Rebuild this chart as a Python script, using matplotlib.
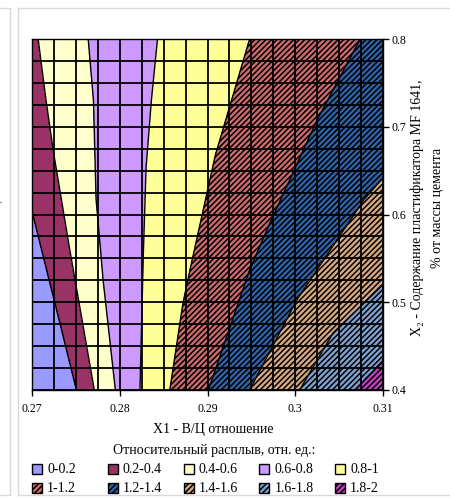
import numpy as np
import matplotlib
matplotlib.use('Agg')
import matplotlib.pyplot as plt
from matplotlib.patches import Rectangle
from matplotlib.ticker import MultipleLocator

plt.rcParams['font.family'] = ['Liberation Serif', 'DejaVu Serif']
plt.rcParams['hatch.color'] = 'black'
plt.rcParams['hatch.linewidth'] = 1.1

# contour levels and legend
levels = [0, 0.2, 0.4, 0.6, 0.8, 1.0, 1.2, 1.4, 1.6, 1.8, 2.0]
labels = ['0-0.2', '0.2-0.4', '0.4-0.6', '0.6-0.8', '0.8-1',
          '1-1.2', '1.2-1.4', '1.4-1.6', '1.6-1.8', '1.8-2']
fills = ['#9999FF', '#993366', '#FFFFCC', '#CC99FF', '#FFFF99',
         '#CC6A6C', '#2F63A8', '#D8A880', '#7FA2D2', '#C040C0']
hatches = ['', '', '', '', '', '//////', '//////', '//////', '//////', '//////']

# where each iso-line crosses: (X2 values, X1 values)
c02 = ([0.4, 0.605, 0.8], [0.2751, 0.2700, 0.2652])
c04 = ([0.4, 0.56, 0.674, 0.73, 0.8], [0.2771, 0.2743, 0.2724, 0.2716, 0.2707])
c06 = ([0.4, 0.525, 0.56, 0.617, 0.73, 0.8], [0.2795, 0.2781, 0.2778, 0.2773, 0.2770, 0.2764])
c08 = ([0.4, 0.56, 0.654, 0.73, 0.8], [0.2823, 0.2827, 0.2830, 0.2836, 0.2843])
c10 = ([0.4, 0.499, 0.537, 0.668, 0.8], [0.2857, 0.2872, 0.2880, 0.2909, 0.2948])
c12 = ([0.4, 0.537, 0.590, 0.708, 0.8], [0.2901, 0.2948, 0.2971, 0.3025, 0.3074])
c14 = ([0.4, 0.503, 0.6165, 0.642, 0.8], [0.2948, 0.3002, 0.3078, 0.3100, 0.3219])
c16 = ([0.4, 0.465, 0.520, 0.8], [0.3005, 0.3043, 0.3100, 0.3325])
c18 = ([0.4, 0.434, 0.8], [0.3068, 0.3100, 0.3448])
isolines = [c02, c04, c06, c08, c10, c12, c14, c16, c18]

xticks = [0.27, 0.28, 0.29, 0.30, 0.31]
xticklabels = ['0.27', '0.28', '0.29', '0.3', '0.31']
yticks = [0.4, 0.5, 0.6, 0.7, 0.8]
yticklabels = ['0.4', '0.5', '0.6', '0.7', '0.8']

# build surface so that the contours pass through the read positions
xg = np.linspace(0.27, 0.31, 600)
yg = np.linspace(0.4, 0.8, 600)
Z = np.zeros((len(yg), len(xg)))
for j, yv in enumerate(yg):
    pos = [np.interp(yv, ys, xs) for ys, xs in isolines]
    Z[j] = np.interp(xg, [0.20] + pos + [0.40], levels)

W, H = 450, 498
fig = plt.figure(figsize=(W / 100, H / 100), dpi=100)
ax = fig.add_axes([32 / W, 1 - 390 / H, 351 / W, 351 / H])

ax.contourf(xg, yg, Z, levels=levels, colors=fills, hatches=hatches)
ax.contour(xg, yg, Z, levels=levels[1:-1], colors='black', linewidths=1.0)

ax.set_xlim(0.27, 0.31)
ax.set_ylim(0.4, 0.8)
ax.set_xticks(xticks)
ax.set_xticklabels(xticklabels)
ax.yaxis.tick_right()
ax.set_yticks(yticks)
ax.set_yticklabels(yticklabels)
ax.xaxis.set_minor_locator(MultipleLocator(0.0025))
ax.yaxis.set_minor_locator(MultipleLocator(0.025))
ax.grid(True, which='both', color='black', linewidth=1.3)
ax.tick_params(which='major', direction='out', length=4, width=1, labelsize=8.5)
ax.tick_params(axis='x', which='major', pad=5)
ax.tick_params(axis='y', which='major', pad=2)
ax.tick_params(which='minor', length=0)
for s in ax.spines.values():
    s.set_color('black')
    s.set_linewidth(1)

ax.set_xlabel('X1 - В/Ц отношение', fontsize=10, va='center')
ax.xaxis.set_label_coords((213 - 32) / 351, (390 - 429) / 351)
ax.yaxis.set_label_position('right')
ax.set_ylabel('X\u2082 - Содержание пластификатора MF 1641,\n% от массы цемента',
              fontsize=10, rotation=90, ha='center', va='center', linespacing=1.7)
ax.yaxis.set_label_coords((427 - 32) / 351, 0.52)

# legend below the chart
fig.text(214 / W, 1 - 450 / H, 'Относительный расплыв, отн. ед.:',
         ha='center', va='center', fontsize=10)
for i, lab in enumerate(labels):
    col, row = i % 5, i // 5
    x0 = 32 + col * 75.8
    yc = 469 + row * 19
    fig.add_artist(Rectangle((x0 / W, 1 - (yc + 5) / H), 10 / W, 10 / H,
                             transform=fig.transFigure, facecolor=fills[i],
                             hatch=hatches[i], edgecolor='black', lw=1))
    fig.text((x0 + 15) / W, 1 - yc / H, lab, va='center', fontsize=10)

# chart frames
fig.add_artist(Rectangle((18 / W, 1 - 495 / H), 450 / W, 487 / H, transform=fig.transFigure,
                         fill=False, edgecolor='#D9D9D9', lw=1))
fig.add_artist(Rectangle((-20 / W, 1 - 495 / H), 30 / W, 487 / H, transform=fig.transFigure,
                         fill=False, edgecolor='#D9D9D9', lw=1))
fig.text(-3 / W, 1 - 220 / H, '% от массы цемента', rotation=90, ha='center', va='center',
         fontsize=10, color='#555555')

fig.savefig('out.png', dpi=100)
